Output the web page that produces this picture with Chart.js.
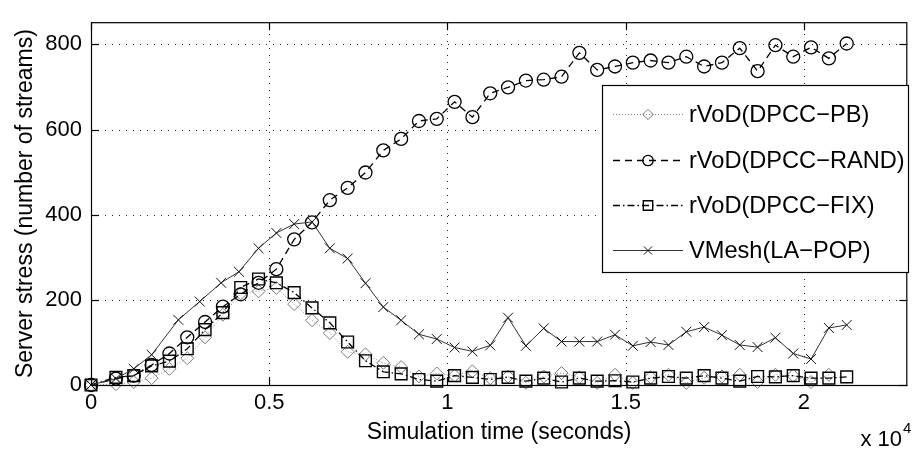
<!DOCTYPE html>
<html><head><meta charset="utf-8">
<script src="https://cdn.jsdelivr.net/npm/chart.js@4.4.0/dist/chart.umd.min.js"></script>
<style>html,body{margin:0;padding:0;background:#fff;overflow:hidden}canvas{display:block}</style>
</head><body>
<canvas id="c" width="917" height="459" style="width:917px;height:459px"></canvas>
<script>
// ---- data ----
const seriesLabels = ['rVoD(DPCC\u2212PB)', 'rVoD(DPCC\u2212RAND)', 'rVoD(DPCC\u2212FIX)', 'VMesh(LA\u2212POP)'];
const timeSeconds = [0, 700, 1200, 1700, 2200, 2700, 3200, 3700, 4200, 4700, 5200, 5700, 6200, 6700, 7200, 7700, 8200, 8700, 9200, 9700, 10200, 10700, 11200, 11700, 12200, 12700, 13200, 13700, 14200, 14700, 15200, 15700, 16200, 16700, 17200, 17700, 18200, 18700, 19200, 19700, 20200, 20700, 21200];
const timeVMesh = [0, 700, 1200, 1700, 2450, 3050, 3650, 4150, 4700, 5200, 5700, 6200, 6700, 7200, 7700, 8200, 8700, 9200, 9700, 10200, 10700, 11200, 11700, 12200, 12700, 13200, 13700, 14200, 14700, 15200, 15700, 16200, 16700, 17200, 17700, 18200, 18700, 19200, 19700, 20200, 20700, 21200];
const pbValues = [0, 2, 7, 16, 38, 63, 112, 165, 215, 220, 228, 190, 152, 122, 78, 72, 52, 42, 20, 27, 22, 32, 16, 20, 5, 20, 28, 18, 5, 24, 5, 18, 24, 5, 17, 20, 24, 7, 24, 22, 7, 24];
const randValues = [0, 15, 22, 47, 74, 112, 148, 184, 213, 240, 272, 342, 382, 434, 463, 499, 551, 578, 620, 625, 665, 629, 685, 699, 715, 717, 724, 780, 740, 748, 757, 762, 757, 771, 748, 757, 791, 737, 798, 771, 793, 767, 802];
const fixValues = [0, 18, 22, 45, 56, 85, 130, 170, 229, 249, 240, 217, 181, 146, 101, 57, 31, 26, 13, 9, 22, 18, 13, 18, 9, 16, 7, 16, 9, 10, 7, 16, 20, 16, 22, 16, 9, 20, 19, 22, 16, 16, 19];
const vmeshValues = [0, 15, 38, 71, 153, 196, 240, 266, 321, 357, 378, 383, 321, 297, 239, 183, 152, 119, 108, 88, 79, 93, 158, 92, 133, 102, 102, 102, 118, 92, 101, 94, 125, 136, 117, 94, 89, 111, 74, 61, 134, 141];
const xTickValues = [0, 5000, 10000, 15000, 20000];
const yTickValues = [0, 200, 400, 600, 800];

const FONT = "'Liberation Sans', Arial, Helvetica, sans-serif";
Chart.defaults.color = '#000';
Chart.defaults.font.family = FONT;

function pts(xs, ys) { return ys.map((v, i) => ({x: xs[i], y: v})); }

const datasets = [
  {label: seriesLabels[0], data: pts(timeSeconds, pbValues), borderColor: '#8a8a8a', borderWidth: 1, borderDash: [1, 2],
   pointStyle: 'rectRot', pointRadius: 6.5, pointBorderColor: '#7a7a7a', pointBorderWidth: 1, pointBackgroundColor: 'rgba(0,0,0,0)', order: 4},
  {label: seriesLabels[1], data: pts(timeSeconds, randValues), borderColor: '#000', borderWidth: 1.3, borderDash: [7, 5],
   pointStyle: 'circle', pointRadius: 6.5, pointBorderColor: '#000', pointBorderWidth: 1.3, pointBackgroundColor: 'rgba(0,0,0,0)', order: 3},
  {label: seriesLabels[2], data: pts(timeSeconds, fixValues), borderColor: '#000', borderWidth: 1.3, borderDash: [7, 3, 1.5, 3],
   pointStyle: 'rect', pointRadius: 8.3, pointBorderColor: '#000', pointBorderWidth: 1.4, pointBackgroundColor: 'rgba(0,0,0,0)', order: 2},
  {label: seriesLabels[3], data: pts(timeVMesh, vmeshValues), borderColor: '#333', borderWidth: 1, borderDash: [],
   pointStyle: 'crossRot', pointRadius: 7, pointBorderColor: '#111', pointBorderWidth: 1, pointBackgroundColor: 'rgba(0,0,0,0)', order: 1}
];
datasets.forEach(d => { d.clip = false; d.fill = false; d.tension = 0; });

function line(ctx, x1, y1, x2, y2) { ctx.beginPath(); ctx.moveTo(x1, y1); ctx.lineTo(x2, y2); ctx.stroke(); }

const matlabAxes = {
  id: 'matlabAxes',
  beforeDatasetsDraw(chart) {
    const {ctx, chartArea: a, scales: {x, y}} = chart;
    ctx.save();
    ctx.strokeStyle = '#222'; ctx.lineWidth = 1; ctx.setLineDash([1, 6]);
    x.ticks.forEach(t => {
      const px = Math.round(x.getPixelForValue(t.value)) + 0.5;
      if (px > a.left + 2 && px < a.right - 2) line(ctx, px, a.bottom, px, a.top);
    });
    y.ticks.forEach(t => {
      const py = Math.round(y.getPixelForValue(t.value)) + 0.5;
      if (py > a.top + 2 && py < a.bottom - 2) line(ctx, a.left, py, a.right, py);
    });
    ctx.restore();
  },
  afterDatasetsDraw(chart) {
    const {ctx, chartArea: a, scales: {x, y}} = chart;
    ctx.save();
    ctx.setLineDash([]);
    ctx.strokeStyle = '#000'; ctx.lineWidth = 1.2;
    ctx.strokeRect(a.left + 0.5, a.top + 0.5, a.right - a.left - 1, a.bottom - a.top);
    const TL = 8;
    x.ticks.forEach(t => {
      const px = Math.round(x.getPixelForValue(t.value)) + 0.5;
      line(ctx, px, a.bottom, px, a.bottom - TL);
      line(ctx, px, a.top, px, a.top + TL);
    });
    y.ticks.forEach(t => {
      const py = Math.round(y.getPixelForValue(t.value)) + 0.5;
      line(ctx, a.left, py, a.left + TL, py);
      line(ctx, a.right, py, a.right - TL, py);
    });
    // legend
    const L = {left: 602, top: 85, right: 908, bottom: 272};
    ctx.fillStyle = '#fff';
    ctx.fillRect(L.left, L.top, L.right - L.left, L.bottom - L.top);
    ctx.strokeStyle = '#000'; ctx.lineWidth = 1.2;
    ctx.strokeRect(L.left + 0.5, L.top + 0.5, L.right - L.left, L.bottom - L.top);
    const rows = [114, 160, 205, 250];
    chart.data.datasets.forEach((d, i) => {
      const ry = rows[i] + 0.5;
      ctx.save();
      ctx.strokeStyle = d.borderColor; ctx.lineWidth = d.borderWidth; ctx.setLineDash(d.borderDash || []);
      line(ctx, 613, ry, 683, ry);
      ctx.restore();
      ctx.save();
      ctx.strokeStyle = d.pointBorderColor; ctx.lineWidth = d.pointBorderWidth; ctx.fillStyle = 'rgba(0,0,0,0)';
      Chart.helpers.drawPoint(ctx, {pointStyle: d.pointStyle, radius: d.pointRadius * 0.8, borderWidth: d.pointBorderWidth, rotation: 0}, 648, ry);
      ctx.restore();
      ctx.fillStyle = '#000'; ctx.font = '23.6px ' + FONT; ctx.textAlign = 'left'; ctx.textBaseline = 'middle';
      ctx.fillText(d.label, 689, ry + 1);
    });
    // exponent label
    ctx.fillStyle = '#000'; ctx.textBaseline = 'alphabetic';
    ctx.font = '22px ' + FONT; ctx.textAlign = 'right';
    ctx.fillText('x 10', 902, 446);
    ctx.font = '15px ' + FONT; ctx.textAlign = 'left';
    ctx.fillText('4', 903, 433);
    ctx.restore();
  }
};

new Chart(document.getElementById('c'), {
  type: 'line',
  data: {datasets},
  options: {
    responsive: false, animation: false, devicePixelRatio: 1,
    layout: {padding: {top: 6, right: 2, bottom: 0, left: 0}},
    plugins: {legend: {display: false}, tooltip: {enabled: false}},
    scales: {
      x: {
        type: 'linear', min: 0, max: 22900,
        afterBuildTicks: s => { s.ticks = xTickValues.map(v => ({value: v})); },
        afterFit: s => { s.height = 74; },
        grid: {display: false, drawTicks: false}, border: {display: false},
        ticks: {font: {size: 22}, padding: 5, maxRotation: 0, autoSkip: false, callback: v => String(v / 10000)},
        title: {display: true, text: 'Simulation time (seconds)', font: {size: 23}, padding: {top: 4, bottom: 13}}
      },
      y: {
        type: 'linear', min: 0, max: 852,
        afterBuildTicks: s => { s.ticks = yTickValues.map(v => ({value: v})); },
        afterFit: s => { s.width = 91; },
        grid: {display: false, drawTicks: false}, border: {display: false},
        ticks: {font: {size: 22}, padding: 9, autoSkip: false, callback: v => String(v)},
        title: {display: true, text: 'Server stress (number of streams)', font: {size: 23}, padding: {top: 12, bottom: 0}}
      }
    }
  },
  plugins: [matlabAxes]
});
</script>
</body></html>
